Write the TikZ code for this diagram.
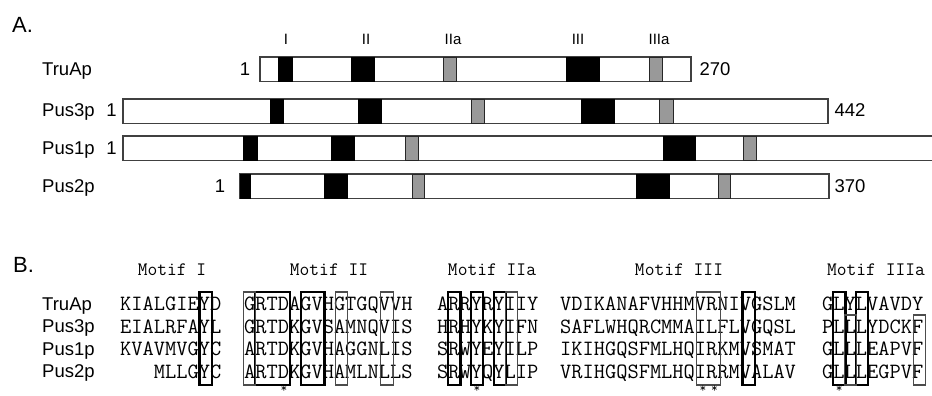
\documentclass[tikz,border=0pt]{standalone}
\usepackage{fontspec}
\setmainfont{Liberation Sans}
\usetikzlibrary{positioning}
\newcommand{\chw}{11.445}
\begin{document}
\begin{tikzpicture}[
    x=1pt,y=-1pt,
    panel/.style={font=\fontsize{22}{24}\selectfont,inner sep=0pt,anchor=base west},
    roman/.style={font=\fontsize{15}{16}\selectfont,inner sep=0pt,anchor=base},
    prot/.style={font=\fontsize{18.5}{20}\selectfont,inner sep=0pt,anchor=base west},
    len/.style={font=\fontsize{18.5}{20}\selectfont,inner sep=0pt,anchor=base},
    bar/.style={draw=black!75,fill=white,line width=1.1pt},
    hit/.style={draw=black,fill=black,line width=0.8pt},
    weak/.style={draw=black!85,fill=black!40,line width=0.8pt},
    heading/.style={font=\fontsize{19}{20}\ttfamily,inner sep=0pt,anchor=base},
    seq/.style={font=\fontsize{21.8}{22}\ttfamily,inner sep=0pt,anchor=base west},
    strong/.style={draw=black,line width=2.3pt},
    faint/.style={draw=black!70,line width=1.1pt},
    conserved/.style={font=\fontsize{13}{13}\ttfamily,inner sep=0pt,anchor=north}
  ]
  \useasboundingbox (0,0) rectangle (932,396);

  % A. domain maps
  \node[panel] (A) at (12,33) {A.};
  \foreach \lab/\x in {I/286,II/366,IIa/453,III/578,IIIa/659}
    \node[roman] (m\lab) at (\x,44.5) {\lab};
  \foreach \t/\l/\r in {57/260/691, 99/123/828, 136/123/940, 174/240/829}
    \draw[bar] (\l,\t) rectangle (\r,\t+24.5);
  \foreach \t/\l/\r in {57/278/292, 57/351/374, 57/566/599,
                        99/270/283, 99/358/381, 99/581/614,
                        136/243/257, 136/331/354, 136/663/695,
                        174/240/250, 174/324/347, 174/636/669}
    \draw[hit] (\l,\t) rectangle (\r,\t+24.5);
  \foreach \t/\l/\r in {57/443/456, 57/649/662, 99/471/484, 99/659/673,
                        136/405/418, 136/743/756, 174/412/424, 174/718/730}
    \draw[weak] (\l,\t) rectangle (\r,\t+24.5);

  \node[prot] (truA) at (42,76) {TruAp};
  \node[prot] (pus3A) at (42,117) {Pus3p};
  \node[prot] (pus1A) at (42,154.5) {Pus1p};
  \node[prot] (pus2A) at (42,192.5) {Pus2p};
  \node[len] (truS) at (245,76) {1};
  \node[len] (pus3S) at (111.5,117) {1};
  \node[len] (pus1S) at (111.5,154.5) {1};
  \node[len] (pus2S) at (220,192.5) {1};
  \node[len] (truE) at (715,76) {270};
  \node[len] (pus3E) at (850,117) {442};
  \node[len] (pus2E) at (850,192.5) {370};

  % B. motif alignment
  \node[panel] (B) at (13,272) {B.};
  \node[heading] (hI) at (172,275.5) {Motif I};
  \node[heading] (hII) at (329,275.5) {Motif II};
  \node[heading] (hIIa) at (492,275.5) {Motif IIa};
  \node[heading] (hIII) at (679,275.5) {Motif III};
  \node[heading] (hIIIa) at (876,275.5) {Motif IIIa};

  \foreach \name/\row [count=\i from 0] in {TruAp/tru, Pus3p/pus3, Pus1p/pus1, Pus2p/pus2}
    \node[prot] (\row B) at (42,310+22.5*\i) {\name};

  \foreach \s/\t/\u/\v/\w [count=\i from 0] in {
      KIALGIEYD/GRTDAGVHGTGQVVH/ARRYRYIIY/VDIKANAFVHHMVRNIVGSLM/GLYLVAVDY,
      EIALRFAYL/GRTDKGVSAMNQVIS/HRHYKYIFN/SAFLWHQRCMMAILFLVGQSL/PLLLYDCKF,
      KVAVMVGYC/ARTDKGVHAGGNLIS/SRWYEYILP/IKIHGQSFMLHQIRKMVSMAT/GLLLEAPVF,
      {\hphantom{KIA}MLLGYC}/ARTDKGVHAMLNLLS/SRWYQYLIP/VRIHGQSFMLHQIRRMVALAV/GLLLEGPVF}
  {
    \node[seq] (sI-\i) at (120,310.5+22.5*\i) {\s};
    \node[seq] (sII-\i) at (244,310.5+22.5*\i) {\t};
    \node[seq] (sIIa-\i) at (437,310.5+22.5*\i) {\u};
    \node[seq] (sIII-\i) at (560,310.5+22.5*\i) {\v};
    \node[seq] (sIIIa-\i) at (822,310.5+22.5*\i) {\w};
  }

  % boxed columns: block start / first col / last col / top
  \foreach \x/\c/\d in {120/8/8, 244/2/4, 244/6/7, 437/2/2, 437/4/4, 437/6/6,
                        560/17/17, 822/2/2, 822/4/4}
    \draw[strong] (\x+\c*\chw-\chw-0.5,292) rectangle (\x+\d*\chw+0.5,385);
  \foreach \x/\c/\d/\t in {244/1/1/292, 244/9/9/292, 244/13/13/292, 437/7/7/292,
                           560/13/14/292, 822/3/3/315, 822/9/9/315}
    \draw[faint] (\x+\c*\chw-\chw-0.5,\t) rectangle (\x+\d*\chw+0.5,385);

  \foreach \x/\c in {244/4, 437/4, 560/13, 560/14, 822/2}
    \node[conserved] (ast-\x-\c) at (\x+\c*\chw-0.5*\chw,386) {*};
\end{tikzpicture}
\end{document}
